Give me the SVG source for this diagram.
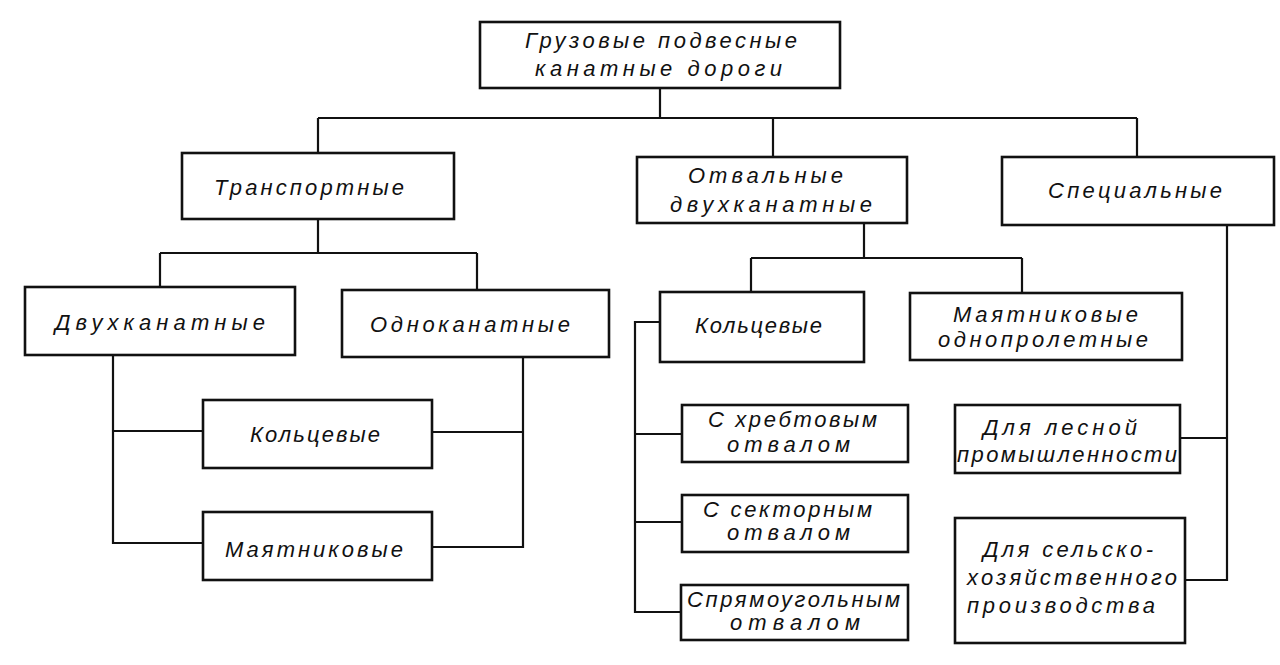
<svg xmlns="http://www.w3.org/2000/svg" width="1280" height="665" viewBox="0 0 1280 665">
<style>
.box{fill:#fff;stroke:#111;stroke-width:2.6}
.ln{fill:none;stroke:#111;stroke-width:2.2}
text{font-family:"Liberation Sans","DejaVu Sans",sans-serif;font-style:italic;font-size:22px;fill:#111}
</style>
<rect width="1280" height="665" fill="#fff"/>
<g id="connectors" class="ln">
<path d="M660 88V118M318 118H1137M318 118V153M773 118V157M1137 118V157"/>
<path d="M318 219V253M160 253H477M160 253V287M477 253V290"/>
<path d="M113 355V543H203M113 431H203M523 357V547H432M432 432H523"/>
<path d="M864 223V258M751 258H1022M751 258V292M1022 258V293"/>
<path d="M660 322H635V612H682M635 434H682M635 522H682"/>
<path d="M1227 225V580H1185M1180 438H1227"/>
</g>
<g id="n-root"><rect class="box" x="480" y="22" width="360" height="66"/>
<text x="525" y="48" textLength="272" lengthAdjust="spacing">Грузовые подвесные</text>
<text x="535" y="76" textLength="247" lengthAdjust="spacing">канатные дороги</text></g>
<g id="n-transport"><rect class="box" x="182" y="153" width="272" height="66"/>
<text x="214" y="195" textLength="190" lengthAdjust="spacing">Транспортные</text></g>
<g id="n-otval"><rect class="box" x="637" y="157" width="270" height="66"/>
<text x="688" y="183" textLength="155" lengthAdjust="spacing">Отвальные</text>
<text x="670" y="212" textLength="202" lengthAdjust="spacing">двухканатные</text></g>
<g id="n-special"><rect class="box" x="1002" y="157" width="272" height="68"/>
<text x="1048" y="198" textLength="174" lengthAdjust="spacing">Специальные</text></g>
<g id="n-dvukh"><rect class="box" x="25" y="287" width="270" height="68"/>
<text x="55" y="330" textLength="210" lengthAdjust="spacing">Двухканатные</text></g>
<g id="n-odno"><rect class="box" x="342" y="290" width="267" height="67"/>
<text x="370" y="332" textLength="200" lengthAdjust="spacing">Одноканатные</text></g>
<g id="n-kolts-r"><rect class="box" x="660" y="292" width="204" height="70"/>
<text x="695" y="333" textLength="127" lengthAdjust="spacing">Кольцевые</text></g>
<g id="n-mayat-r"><rect class="box" x="910" y="293" width="272" height="67"/>
<text x="953" y="322" textLength="185" lengthAdjust="spacing">Маятниковые</text>
<text x="938" y="347" textLength="210" lengthAdjust="spacing">однопролетные</text></g>
<g id="n-kolts-l"><rect class="box" x="203" y="400" width="229" height="68"/>
<text x="250" y="442" textLength="130" lengthAdjust="spacing">Кольцевые</text></g>
<g id="n-mayat-l"><rect class="box" x="203" y="512" width="229" height="68"/>
<text x="225" y="557" textLength="178" lengthAdjust="spacing">Маятниковые</text></g>
<g id="n-khreb"><rect class="box" x="682" y="405" width="226" height="57"/>
<text x="708" y="427" textLength="169" lengthAdjust="spacing">С хребтовым</text>
<text x="727" y="452" textLength="123" lengthAdjust="spacing">отвалом</text></g>
<g id="n-sektor"><rect class="box" x="682" y="495" width="226" height="57"/>
<text x="703" y="517" textLength="169" lengthAdjust="spacing">С секторным</text>
<text x="727" y="540" textLength="123" lengthAdjust="spacing">отвалом</text></g>
<g id="n-pryam"><rect class="box" x="681" y="585" width="227" height="55"/>
<text x="687" y="607" textLength="213" lengthAdjust="spacing">Спрямоугольным</text>
<text x="730" y="630" textLength="130" lengthAdjust="spacing">отвалом</text></g>
<g id="n-les"><rect class="box" x="955" y="405" width="225" height="68"/>
<text x="983" y="435" textLength="154" lengthAdjust="spacing">Для лесной</text>
<text x="957" y="462" textLength="220" lengthAdjust="spacing">промышленности</text></g>
<g id="n-selkhoz"><rect class="box" x="955" y="518" width="230" height="125"/>
<text x="983" y="557" textLength="170" lengthAdjust="spacing">Для сельско-</text>
<text x="967" y="585" textLength="210" lengthAdjust="spacing">хозяйственного</text>
<text x="967" y="613" textLength="188" lengthAdjust="spacing">производства</text></g>
</svg>
